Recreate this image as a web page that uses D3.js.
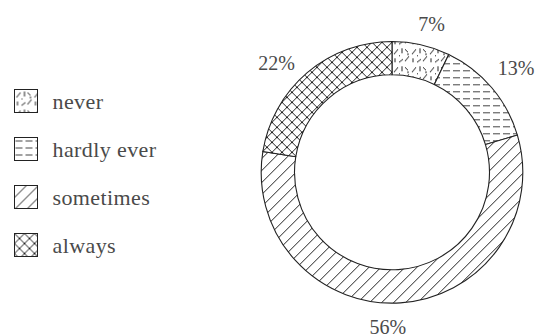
<!DOCTYPE html>
<html>
<head>
<meta charset="utf-8">
<script src="https://cdn.jsdelivr.net/npm/d3@7"></script>
<style>
  html, body { margin: 0; padding: 0; background: #fff; }
  svg text { font-family: "Liberation Serif", serif; fill: #4a4a4a; }
</style>
</head>
<body>
<svg id="chart" width="540" height="336"></svg>
<script>
// Frequency answers and their shares (percent)
const categories = ["never", "hardly ever", "sometimes", "always"];
const values = [7, 13, 56, 22];
const valueLabels = ["7%", "13%", "56%", "22%"];
const patternIds = ["pat-never", "pat-hardly", "pat-sometimes", "pat-always"];

const svg = d3.select("#chart");
const defs = svg.append("defs");
const ink = "#222";

function tile(id, w, h) {
  const p = defs.append("pattern").attr("id", id)
    .attr("patternUnits", "userSpaceOnUse").attr("width", w).attr("height", h);
  p.append("rect").attr("width", w).attr("height", h).attr("fill", "#fff");
  return p;
}

// never: scattered short strokes at mixed angles
{
  const p = tile("pat-never", 18, 18);
  const strokes = [
    [2, 8, 6, 3], [10, 2, 10, 7], [13, 15, 17, 10], [3, 12, 3, 16],
    [7, 16, 11, 13], [13, 3, 16, 6], [7, 9, 8, 10], [15, 8, 17, 8]
  ];
  strokes.forEach(s => p.append("line")
    .attr("x1", s[0]).attr("y1", s[1]).attr("x2", s[2]).attr("y2", s[3])
    .attr("stroke", ink).attr("stroke-width", 1));
}
// hardly ever: horizontal dashed rows
{
  const p = tile("pat-hardly", 10, 7);
  p.append("line").attr("x1", 1).attr("y1", 3.5).attr("x2", 8).attr("y2", 3.5)
    .attr("stroke", "#444").attr("stroke-width", 1);
}
// sometimes: forward diagonal hatching
{
  const p = tile("pat-sometimes", 12, 12);
  p.append("path").attr("d", "M-1,13 L13,-1 M-7,7 L7,-7 M5,19 L19,5")
    .attr("stroke", ink).attr("stroke-width", 1);
}
// always: diagonal cross-hatching
{
  const p = tile("pat-always", 10, 10);
  p.append("path").attr("d", "M-1,11 L11,-1 M-6,6 L6,-6 M4,16 L16,4 M-1,-1 L11,11 M-6,4 L6,16 M4,-6 L16,6")
    .attr("stroke", ink).attr("stroke-width", 1);
}

// Donut
const cx = 392, cy = 172.3, outerR = 130.8, innerR = 97.5;
const pie = d3.pie().sort(null).value(d => d);
const arcs = pie(values);
const arc = d3.arc().innerRadius(innerR).outerRadius(outerR);
const labelArc = d3.arc().innerRadius(155).outerRadius(155);
// small per-label shifts away from the ring's neighbours
const labelNudge = [[5, 3], [6, -4], [-14, 0], [-15, 9]];

const g = svg.append("g").attr("transform", `translate(${cx},${cy})`);
g.selectAll("path.slice").data(arcs).join("path")
  .attr("class", "slice")
  .attr("d", arc)
  .attr("fill", (d, i) => `url(#${patternIds[i]})`)
  .attr("stroke", ink).attr("stroke-width", 1.1);

g.selectAll("text.pct").data(arcs).join("text")
  .attr("class", "pct")
  .attr("transform", (d, i) => {
    const [x, y] = labelArc.centroid(d);
    return `translate(${x + labelNudge[i][0]},${y + labelNudge[i][1]})`;
  })
  .attr("text-anchor", "middle")
  .attr("dominant-baseline", "central")
  .style("font-size", "20px")
  .text((d, i) => valueLabels[i]);

// Legend
const legend = svg.append("g").attr("transform", "translate(14.5,89.5)");
const item = legend.selectAll("g").data(categories).join("g")
  .attr("transform", (d, i) => `translate(0,${i * 48})`);
item.append("rect").attr("width", 23).attr("height", 23)
  .attr("fill", (d, i) => `url(#${patternIds[i]})`)
  .attr("stroke", ink).attr("stroke-width", 1);
item.append("text").attr("x", 38).attr("y", 11.5)
  .attr("dominant-baseline", "central")
  .style("font-size", "22px")
  .style("letter-spacing", "0.4px")
  .text(d => d);
</script>
</body>
</html>
